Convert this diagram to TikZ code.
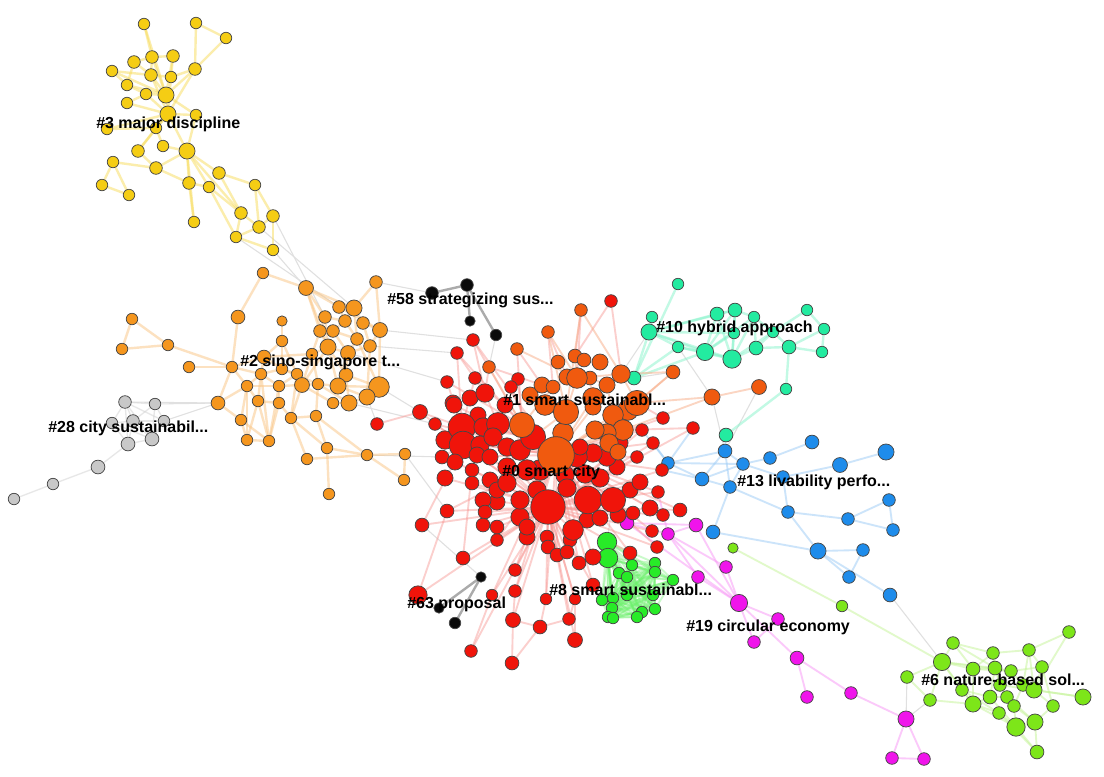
\documentclass[tikz,border=0pt]{standalone}
\usepackage{fontspec}
\setmainfont{Liberation Sans}
\usetikzlibrary{backgrounds}
\definecolor{cY}{RGB}{245,205,20}
\definecolor{cO}{RGB}{245,150,30}
\definecolor{cR}{RGB}{240,20,10}
\definecolor{cQ}{RGB}{240,90,15}
\definecolor{cT}{RGB}{35,235,160}
\definecolor{cB}{RGB}{30,140,235}
\definecolor{cE}{RGB}{40,235,40}
\definecolor{cL}{RGB}{125,230,25}
\definecolor{cM}{RGB}{240,20,235}
\definecolor{cG}{RGB}{200,200,200}
\definecolor{cK}{RGB}{10,10,10}
\definecolor{cBd}{RGB}{70,70,70}
\newcommand\nd[5]{\node[nd,fill=#5,minimum size=#4*1.72pt] (#1) at (#2,#3) {};}
\tikzset{
  nd/.style={circle,draw=cBd,line width=0.55pt,inner sep=0pt},
  lab/.style={anchor=west,inner sep=0pt,font=\bfseries\fontsize{12}{14}\selectfont},
  eg/.style={line width=1.8pt,opacity=0.5},
  faint/.style={line width=0.8pt,draw=black!12}
}
\begin{document}
\begin{tikzpicture}[x=0.75pt,y=-0.75pt]
\useasboundingbox (0,0) rectangle (1104,776);
% ---------- yellow #3
\nd{y1}{144}{24}{5}{cY}\nd{y2}{196}{23}{5}{cY}\nd{y3}{226}{38}{5}{cY}
\nd{y4}{134}{62}{5.5}{cY}\nd{y5}{152}{57}{5.5}{cY}\nd{y6}{173}{56}{5.5}{cY}
\nd{y7}{112}{71}{5}{cY}\nd{y8}{151}{75}{5.5}{cY}\nd{y9}{171}{77}{5}{cY}
\nd{y10}{195}{69}{5.5}{cY}\nd{y11}{127}{85}{5}{cY}\nd{y12}{146}{94}{5}{cY}
\nd{y13}{166}{95}{7}{cY}\nd{y14}{127}{103}{5}{cY}\nd{y15}{168}{114}{7}{cY}
\nd{y16}{196}{115}{5}{cY}\nd{y17}{107}{129}{5}{cY}\nd{y18}{156}{128}{5}{cY}
\nd{y19}{138}{151}{5.5}{cY}\nd{y20}{163}{146}{5}{cY}\nd{y21}{187}{151}{7}{cY}
\nd{y22}{113}{162}{5}{cY}\nd{y23}{156}{168}{5.5}{cY}\nd{y24}{102}{185}{5}{cY}
\nd{y25}{129}{195}{5}{cY}\nd{y26}{189}{183}{5.5}{cY}\nd{y27}{219}{173}{5.5}{cY}
\nd{y28}{209}{187}{5}{cY}\nd{y29}{255}{185}{5}{cY}\nd{y30}{194}{222}{5}{cY}
\nd{y31}{241}{213}{5.5}{cY}\nd{y32}{273}{216}{5.5}{cY}\nd{y33}{259}{227}{5.5}{cY}
\nd{y34}{236}{237}{5}{cY}\nd{y35}{273}{250}{5}{cY}
% ---------- orange #2
\nd{o1}{263}{273}{5}{cO}\nd{o2}{306}{288}{6.5}{cO}\nd{o3}{376}{282}{5.5}{cO}
\nd{o4}{339}{307}{5.5}{cO}\nd{o5}{354}{308}{7}{cO}\nd{o6}{325}{317}{5.5}{cO}
\nd{o7}{345}{321}{5.5}{cO}\nd{o8}{363}{323}{5.5}{cO}\nd{o9}{380}{330}{6.5}{cO}
\nd{o10}{320}{331}{5.5}{cO}\nd{o11}{333}{331}{5.5}{cO}\nd{o12}{357}{339}{5.5}{cO}
\nd{o13}{328}{347}{7}{cO}\nd{o14}{370}{346}{5.5}{cO}\nd{o15}{348}{353}{6.5}{cO}
\nd{o16}{312}{354}{5}{cO}\nd{o17}{264}{357}{6}{cO}\nd{o18}{132}{319}{5}{cO}
\nd{o19}{238}{317}{6}{cO}\nd{o20}{282}{321}{4.5}{cO}\nd{o21}{282}{341}{5}{cO}
\nd{o22}{168}{345}{5}{cO}\nd{o23}{122}{349}{5}{cO}\nd{o24}{189}{367}{5}{cO}
\nd{o25}{232}{367}{5}{cO}\nd{o26}{261}{374}{5}{cO}\nd{o27}{282}{369}{5}{cO}
\nd{o28}{297}{374}{5}{cO}\nd{o29}{346}{375}{6}{cO}\nd{o30}{247}{386}{5}{cO}
\nd{o31}{279}{386}{5}{cO}\nd{o32}{302}{385}{6.5}{cO}\nd{o33}{318}{384}{5}{cO}
\nd{o34}{338}{386}{7}{cO}\nd{o35}{379}{387}{9}{cO}\nd{o36}{367}{397}{7}{cO}
\nd{o37}{349}{403}{7}{cO}\nd{o38}{333}{403}{5}{cO}\nd{o39}{218}{403}{6}{cO}
\nd{o40}{258}{401}{5}{cO}\nd{o41}{279}{403}{5}{cO}\nd{o42}{291}{418}{5}{cO}
\nd{o43}{316}{416}{5}{cO}\nd{o44}{241}{420}{5}{cO}\nd{o45}{247}{440}{5}{cO}
\nd{o46}{269}{441}{5}{cO}\nd{o47}{327}{448}{5}{cO}\nd{o48}{307}{459}{5}{cO}
\nd{o49}{367}{455}{5}{cO}\nd{o50}{405}{454}{5}{cO}\nd{o51}{404}{480}{5}{cO}
\nd{o52}{329}{494}{5}{cO}
% ---------- grey #28
\nd{g1}{125}{402}{5.5}{cG}\nd{g2}{155}{404}{5}{cG}\nd{g3}{112}{423}{5}{cG}
\nd{g4}{133}{421}{5.5}{cG}\nd{g5}{164}{421}{5}{cG}\nd{g6}{128}{444}{6}{cG}
\nd{g7}{152}{439}{6}{cG}\nd{g8}{98}{467}{6}{cG}\nd{g9}{53}{484}{5}{cG}
\nd{g10}{14}{499}{5}{cG}
% ---------- black #58 and #63
\nd{b1}{432}{293}{5.5}{cK}\nd{b2}{467}{285}{5.5}{cK}\nd{b3}{470}{321}{4.5}{cK}\nd{b4}{496}{335}{5}{cK}
\nd{k1}{481}{577}{4.5}{cK}\nd{k2}{439}{608}{4.5}{cK}\nd{k3}{455}{623}{5}{cK}
% ---------- teal #10
\nd{t1}{678}{284}{5}{cT}\nd{t2}{652}{317}{5}{cT}\nd{t3}{649}{332}{7}{cT}
\nd{t4}{678}{347}{5}{cT}\nd{t5}{717}{314}{6}{cT}\nd{t6}{735}{310}{6}{cT}
\nd{t7}{754}{317}{5}{cT}\nd{t8}{734}{333}{5}{cT}\nd{t9}{773}{332}{5}{cT}
\nd{t10}{705}{352}{7.5}{cT}\nd{t11}{732}{359}{8}{cT}\nd{t12}{756}{348}{6}{cT}
\nd{t13}{789}{347}{6}{cT}\nd{t14}{807}{310}{5}{cT}\nd{t15}{824}{329}{5}{cT}
\nd{t16}{822}{352}{5}{cT}\nd{t17}{634}{378}{6}{cT}\nd{t18}{786}{389}{5}{cT}
\nd{t19}{726}{435}{6}{cT}
% ---------- blue #13
\nd{u1}{812}{442}{6}{cB}\nd{u2}{886}{452}{7}{cB}\nd{u3}{725}{451}{6}{cB}
\nd{u4}{770}{458}{5.5}{cB}\nd{u5}{840}{465}{6.5}{cB}\nd{u6}{668}{463}{5.5}{cB}
\nd{u7}{743}{464}{5.5}{cB}\nd{u8}{702}{479}{6}{cB}\nd{u9}{783}{477}{5.5}{cB}
\nd{u10}{730}{487}{5.5}{cB}\nd{u11}{889}{500}{5.5}{cB}\nd{u12}{788}{512}{5.5}{cB}
\nd{u13}{848}{519}{5.5}{cB}\nd{u14}{893}{530}{5.5}{cB}\nd{u15}{713}{532}{6}{cB}
\nd{u16}{818}{551}{7}{cB}\nd{u17}{863}{550}{5.5}{cB}\nd{u18}{849}{577}{5.5}{cB}
\nd{u19}{890}{595}{6}{cB}
% ---------- magenta #19
\nd{m1}{627}{523}{6}{cM}\nd{m2}{696}{525}{6}{cM}\nd{m3}{668}{534}{5.5}{cM}
\nd{m4}{698}{577}{5.5}{cM}\nd{m5}{726}{567}{5.5}{cM}\nd{m6}{739}{603}{7.5}{cM}
\nd{m7}{778}{619}{5.5}{cM}\nd{m8}{754}{642}{5.5}{cM}\nd{m9}{797}{658}{6}{cM}
\nd{m10}{807}{697}{5.5}{cM}\nd{m11}{851}{693}{5.5}{cM}\nd{m12}{906}{719}{7}{cM}
\nd{m13}{892}{758}{5.5}{cM}\nd{m14}{924}{759}{5.5}{cM}
% ---------- lime #6
\nd{l1}{733}{548}{4.5}{cL}\nd{l2}{842}{606}{5}{cL}\nd{l3}{1069}{632}{5.5}{cL}
\nd{l4}{953}{643}{5.5}{cL}\nd{l5}{993}{653}{5.5}{cL}\nd{l6}{1029}{650}{5.5}{cL}
\nd{l7}{942}{662}{7.5}{cL}\nd{l8}{973}{669}{6}{cL}\nd{l9}{995}{668}{6}{cL}
\nd{l10}{1011}{671}{5.5}{cL}\nd{l11}{1042}{667}{5.5}{cL}\nd{l12}{907}{677}{5.5}{cL}
\nd{l13}{962}{690}{5.5}{cL}\nd{l14}{1000}{685}{5.5}{cL}\nd{l15}{1023}{685}{5.5}{cL}
\nd{l16}{1034}{690}{7}{cL}\nd{l17}{930}{700}{5.5}{cL}\nd{l18}{973}{704}{7}{cL}
\nd{l19}{990}{697}{6}{cL}\nd{l20}{1007}{697}{5.5}{cL}\nd{l21}{1014}{706}{5.5}{cL}
\nd{l22}{1053}{706}{5.5}{cL}\nd{l23}{1083}{697}{7}{cL}\nd{l24}{999}{713}{5.5}{cL}
\nd{l25}{1016}{727}{8}{cL}\nd{l26}{1035}{722}{7}{cL}\nd{l27}{1037}{752}{6}{cL}
% ---------- bright green #8
\nd{e1}{607}{542}{8.5}{cE}\nd{e2}{608}{558}{8.5}{cE}\nd{e3}{632}{565}{5}{cE}
\nd{e4}{655}{563}{5}{cE}\nd{e5}{655}{572}{5}{cE}\nd{e6}{619}{573}{5}{cE}
\nd{e7}{627}{577}{5}{cE}\nd{e8}{673}{580}{5}{cE}\nd{e9}{653}{595}{5}{cE}
\nd{e10}{627}{595}{5}{cE}\nd{e11}{613}{598}{5}{cE}\nd{e12}{602}{600}{5}{cE}
\nd{e13}{612}{608}{5}{cE}\nd{e14}{642}{612}{5}{cE}\nd{e15}{655}{609}{5}{cE}
\nd{e16}{608}{617}{5}{cE}\nd{e17}{613}{618}{5}{cE}\nd{e18}{637}{617}{5}{cE}
% ---------- red #0 (peripheral first)
\nd{r1}{611}{301}{5.5}{cR}\nd{r2}{473}{340}{5.5}{cR}\nd{r3}{457}{353}{5.5}{cR}
\nd{r4}{475}{378}{5.5}{cR}\nd{r5}{518}{379}{5.5}{cR}\nd{r6}{447}{382}{5.5}{cR}
\nd{r7}{511}{387}{5.5}{cR}\nd{r94}{377}{424}{5.5}{cR}\nd{r10}{420}{412}{6.5}{cR}
\nd{r12}{435}{424}{5.5}{cR}\nd{r22}{442}{457}{6}{cR}\nd{r34}{663}{418}{5.5}{cR}
\nd{r35}{693}{428}{5.5}{cR}\nd{r36}{642}{430}{5.5}{cR}\nd{r37}{653}{443}{5.5}{cR}
\nd{r38}{637}{457}{5.5}{cR}\nd{r40}{662}{470}{5.5}{cR}\nd{r41}{658}{492}{5.5}{cR}
\nd{r54}{447}{511}{6}{cR}\nd{r55}{422}{525}{6}{cR}\nd{r67}{680}{510}{6}{cR}
\nd{r66}{663}{515}{5.5}{cR}\nd{r68}{652}{531}{5.5}{cR}\nd{r72}{497}{540}{5.5}{cR}
\nd{r73}{463}{558}{6}{cR}\nd{r79}{630}{553}{6}{cR}\nd{r80}{657}{547}{5.5}{cR}
\nd{r81}{515}{570}{5.5}{cR}\nd{r82}{418}{595}{8}{cR}\nd{r83}{492}{595}{5}{cR}
\nd{r84}{515}{591}{5.5}{cR}\nd{r85}{546}{599}{5}{cR}\nd{r86}{575}{599}{5}{cR}
\nd{r87}{593}{585}{6}{cR}\nd{r88}{513}{620}{6.5}{cR}\nd{r89}{540}{627}{6}{cR}
\nd{r90}{569}{619}{5.5}{cR}\nd{r91}{575}{640}{6.5}{cR}\nd{r92}{471}{651}{5.5}{cR}
\nd{r93}{512}{663}{6}{cR}
\nd{f1}{470}{398}{7}{cR}\nd{f2}{505}{405}{7}{cR}\nd{f3}{445}{440}{8}{cR}
\nd{f4}{497}{502}{7}{cR}\nd{f5}{520}{517}{8}{cR}\nd{f6}{600}{478}{8}{cR}
\nd{f7}{585}{474}{8}{cR}\nd{f8}{540}{470}{9}{cR}\nd{f9}{565}{475}{8}{cR}
\nd{f10}{453}{403}{7}{cR}\nd{f11}{445}{478}{7}{cR}\nd{f12}{630}{490}{7}{cR}
\nd{r9}{454}{405}{7}{cR}\nd{r11}{478}{415}{7}{cR}\nd{r13}{462}{427}{12}{cR}
\nd{r14}{483}{427}{8}{cR}\nd{r17}{463}{445}{12}{cR}\nd{r8}{485}{393}{8}{cR}
\nd{r15}{498}{424}{10}{cR}\nd{r18}{480}{445}{8}{cR}\nd{r19}{493}{437}{8}{cR}
\nd{r23}{455}{462}{7}{cR}\nd{r24}{477}{455}{7}{cR}\nd{r25}{490}{457}{7}{cR}
\nd{r50}{472}{470}{6}{cR}\nd{r51}{472}{483}{6}{cR}\nd{r49}{490}{480}{7}{cR}
\nd{r52}{483}{500}{7}{cR}\nd{r53}{497}{490}{7}{cR}\nd{r56}{485}{512}{6}{cR}
\nd{r57}{483}{525}{6}{cR}\nd{r58}{497}{527}{6}{cR}\nd{r69}{527}{537}{7}{cR}
\nd{r70}{547}{537}{6}{cR}\nd{r71}{570}{540}{6}{cR}\nd{r74}{548}{547}{6}{cR}
\nd{r75}{557}{555}{6}{cR}\nd{r76}{567}{552}{6}{cR}\nd{r77}{579}{563}{6}{cR}
\nd{r78}{593}{557}{7}{cR}\nd{r59}{527}{527}{7}{cR}\nd{r61}{587}{520}{7}{cR}
\nd{r62}{600}{518}{7}{cR}\nd{r63}{618}{515}{7}{cR}\nd{r64}{633}{513}{6}{cR}
\nd{r65}{650}{508}{7}{cR}\nd{r60}{573}{530}{9}{cR}\nd{r39}{640}{482}{7}{cR}
\nd{r33}{617}{467}{7}{cR}\nd{r32}{620}{443}{7}{cR}\nd{r31}{607}{457}{8}{cR}
\nd{r30}{593}{453}{8}{cR}\nd{r29}{577}{457}{9}{cR}\nd{r28}{580}{447}{7}{cR}
\nd{r26}{507}{467}{8}{cR}\nd{r27}{527}{470}{9}{cR}\nd{r48}{507}{483}{8}{cR}
\nd{r47}{520}{500}{8}{cR}\nd{r46}{537}{490}{8}{cR}\nd{r45}{567}{488}{8}{cR}
\nd{r20}{507}{447}{8}{cR}\nd{r21}{520}{450}{9}{cR}\nd{r16}{533}{437}{11}{cR}
\nd{r43}{588}{500}{12}{cR}\nd{r42}{613}{500}{11}{cR}\nd{r44}{548}{507}{15}{cR}
% ---------- orange #1
\nd{q1}{581}{310}{5.5}{cQ}\nd{q2}{548}{332}{5.5}{cQ}\nd{q3}{517}{349}{5.5}{cQ}
\nd{q4}{489}{367}{5.5}{cQ}\nd{q27}{673}{372}{6}{cQ}\nd{q28}{712}{397}{7}{cQ}
\nd{q29}{759}{387}{6.5}{cQ}
\nd{q30}{558}{362}{6}{cQ}\nd{q31}{600}{362}{7}{cQ}\nd{q32}{530}{395}{7}{cQ}
\nd{q5}{575}{356}{6}{cQ}\nd{q6}{584}{360}{6}{cQ}\nd{q7}{567}{377}{7}{cQ}
\nd{q9}{590}{378}{6}{cQ}\nd{q8}{577}{378}{9}{cQ}\nd{q10}{607}{385}{7}{cQ}
\nd{q11}{621}{374}{8}{cQ}\nd{q12}{542}{385}{7}{cQ}\nd{q13}{553}{387}{6}{cQ}
\nd{q24}{593}{398}{9}{cQ}\nd{q17}{593}{407}{7}{cQ}\nd{q22}{628}{410}{9}{cQ}
\nd{q21}{637}{403}{11}{cQ}\nd{q18}{613}{415}{9}{cQ}\nd{q19}{623}{430}{9}{cQ}
\nd{q25}{607}{433}{8}{cQ}\nd{q20}{609}{443}{8}{cQ}\nd{q26}{618}{452}{7}{cQ}
\nd{q33}{545}{405}{9}{cQ}\nd{q34}{595}{430}{8}{cQ}
\nd{q14}{522}{425}{11}{cQ}\nd{q16}{563}{433}{9}{cQ}\nd{q15}{566}{412}{11}{cQ}
\nd{q23}{556}{455}{16}{cQ}
% ====================== edges
\begin{scope}[on background layer]
\fill[white] (0,0) rectangle (1104,776);
% faint inter-cluster
\foreach \a/\b in {y34/o4,y35/o2,y33/o5,y32/o6,o35/r10,o9/r2,o3/b1,o14/r3,o36/r94,o37/r12,t17/q27,u19/l7,m12/l17,g2/o39,g5/o39,g1/o39,b4/q4,e1/r42,t4/q28,r55/k1,q29/u3,l12/m12,o49/r22,o50/r54,t3/q11,u3/q28,o15/r6}
  \draw[faint] (\a) -- (\b);
% yellow
\foreach \a/\b in {y1/y5,y1/y13,y2/y3,y2/y10,y3/y10,y4/y5,y4/y8,y5/y6,y5/y8,y6/y9,y6/y13,y7/y11,y7/y8,y8/y9,y8/y13,y9/y10,y10/y13,y10/y15,y11/y12,y11/y13,y12/y13,y13/y15,y14/y15,y14/y12,y15/y16,y15/y17,y15/y18,y15/y21,y16/y21,y17/y18,y18/y19,y18/y20,y19/y23,y20/y21,y21/y26,y21/y27,y21/y28,y21/y23,y22/y23,y22/y24,y22/y25,y24/y25,y23/y26,y26/y30,y27/y29,y26/y28,y27/y31,y28/y31,y29/y32,y29/y33,y31/y33,y32/y33,y33/y34,y31/y34,y34/y35,y32/y35,y28/y34,y21/y31,y15/y19,y13/y16,y4/y11,y7/y13,y5/y13,y8/y15,y9/y15,y12/y15,y21/y30}
  \draw[eg,draw=cY!70] (\a) -- (\b);
% orange #2
\foreach \a/\b in {o1/o2,o2/o4,o2/o6,o2/o10,o2/o13,o2/o5,o3/o5,o3/o9,o4/o5,o5/o8,o5/o7,o6/o7,o7/o11,o8/o9,o9/o14,o10/o13,o11/o12,o12/o15,o13/o15,o14/o15,o13/o16,o15/o29,o16/o17,o17/o21,o17/o27,o19/o25,o20/o21,o21/o27,o22/o18,o18/o23,o22/o23,o22/o25,o24/o25,o25/o26,o26/o27,o27/o28,o28/o32,o32/o33,o33/o34,o34/o35,o35/o36,o36/o37,o37/o38,o29/o34,o29/o35,o32/o16,o30/o26,o30/o31,o31/o32,o30/o40,o40/o41,o41/o42,o42/o43,o43/o47,o39/o25,o39/o30,o39/o44,o44/o45,o45/o46,o46/o41,o44/o46,o40/o45,o30/o45,o31/o46,o42/o48,o47/o49,o48/o49,o49/o50,o50/o51,o49/o51,o47/o52,o43/o33,o13/o34,o12/o35,o9/o35,o14/o36,o6/o13,o10/o16,o4/o9,o26/o40,o28/o31,o25/o30,o17/o25,o21/o28,o43/o49,o42/o47,o27/o33,o13/o32,o15/o34,o16/o33,o11/o15,o7/o12,o8/o14,o6/o10,o4/o7,o29/o37,o32/o38,o33/o37,o17/o26,o26/o31,o31/o41,o28/o42,o32/o42,o26/o46,o40/o46,o30/o44,o34/o36,o5/o12,o13/o29,o10/o11,o1/o19}
  \draw[eg,draw=cO!55] (\a) -- (\b);
% grey
\foreach \a/\b in {g1/g2,g1/g3,g1/g4,g1/g5,g1/g6,g1/g7,g2/g4,g2/g5,g2/g7,g3/g4,g3/g6,g4/g5,g4/g6,g4/g7,g5/g7,g6/g7,g3/g7,g6/g8,g8/g9,g9/g10}
  \draw[eg,draw=black!18,line width=1pt] (\a) -- (\b);
% black
\foreach \a/\b in {b1/b2,b2/b3,b2/b4,k1/k2,k1/k3}
  \draw[eg,draw=black!55,opacity=0.6] (\a) -- (\b);
% teal
\foreach \a/\b in {t1/t17,t2/t3,t3/t4,t3/t10,t3/t11,t3/t17,t4/t17,t4/t10,t5/t6,t5/t10,t6/t7,t6/t11,t6/t8,t7/t12,t7/t9,t8/t11,t9/t11,t9/t13,t10/t11,t11/t12,t12/t13,t10/t7,t13/t15,t14/t15,t15/t16,t13/t16,t13/t18,t18/t19,t17/t10,t17/q11,t9/t14,t8/t10,t5/t11,t7/t11,t4/t11,t12/t9,t3/t5,t3/t6,t3/t8,t10/t6}
  \draw[eg,draw=cT!55] (\a) -- (\b);
% blue
\foreach \a/\b in {u1/u4,u4/u7,u3/u7,u3/u10,u6/u3,u6/u7,u6/u8,u8/u7,u8/u10,u7/u10,u7/u9,u9/u5,u5/u2,u9/u12,u10/u12,u10/u15,u12/u13,u12/u16,u13/u11,u13/u14,u11/u14,u15/u16,u16/u17,u16/u18,u17/u18,u16/u19,t19/u3,u6/r35,u6/r37,u8/r40,u6/r36,u3/u8}
  \draw[eg,draw=cB!45,line width=1.4pt] (\a) -- (\b);
% magenta
\foreach \a/\b in {m1/m2,m1/m3,m3/m6,m3/m4,m3/m5,m4/m6,m5/m6,m2/m6,m2/m3,m6/m7,m6/m8,m7/m8,m6/m9,m9/m10,m9/m11,m11/m12,m12/m13,m12/m14,m13/m14,m1/r63,m3/r41,m1/m6}
  \draw[eg,draw=cM!45,line width=1.4pt] (\a) -- (\b);
% lime
\foreach \a/\b in {l1/l2,l2/l7,l3/l6,l4/l7,l4/l8,l5/l6,l5/l9,l6/l11,l6/l16,l7/l8,l7/l12,l7/l13,l7/l17,l8/l9,l8/l13,l9/l10,l10/l11,l10/l14,l11/l16,l13/l18,l14/l16,l15/l16,l16/l22,l16/l23,l18/l19,l19/l20,l20/l21,l18/l24,l24/l25,l25/l26,l26/l27,l25/l27,l22/l26,l21/l25,l17/l18,l12/l17,l8/l18,l9/l19,l14/l20,l13/l24,l5/l14,l4/l5,l10/l15,l15/l21,l19/l25,l7/l9,l11/l22,l23/l16,l5/l8,l7/l18,l20/l26,l6/l15,l3/l16,l4/l9,l8/l10,l9/l14,l13/l19,l18/l25,l21/l26,l24/l27,l7/l10}
  \draw[eg,draw=cL!45,line width=1.4pt] (\a) -- (\b);
% bright green hull
\foreach \i in {1,...,18}{\foreach \j in {\i,...,18}{\draw[draw=cE!70,line width=1.4pt,opacity=0.35] (e\i.center) -- (e\j.center);}}
% red/orange core
\foreach \a/\b in {r1/q11,r1/q5,q1/q8,q1/q5,q2/q7,q2/q13,q3/q12,q3/q14,q4/q12,q4/r8,r2/r8,r2/q14,r3/r13,r3/r8,r4/r13,r5/q14,r6/r13,r7/r16,r8/r15,r9/r13,r10/r13,r10/r17,r11/r14,r12/r17,r13/r16,r14/r16,r15/q23,r16/q23,r17/r44,r18/q23,r19/r44,r20/q23,r21/r44,r22/r17,r23/r44,r24/r44,r25/r44,r26/r44,r27/r44,r28/r44,r29/r44,r30/q23,r31/r44,r32/q23,r33/r44,r34/q21,r35/q19,r36/q23,r37/r44,r38/r44,r39/r44,r40/q23,r41/r44,r42/q23,r43/q23,r45/q23,r46/q23,r47/q23,r48/q14,r49/q23,r50/r44,r51/r44,r52/r44,r53/q23,r54/r44,r55/r17,r55/r44,r56/r44,r57/r44,r58/r44,r59/q23,r60/r44,r61/r44,r62/q23,r63/r44,r64/r44,r65/q23,r66/r44,r67/r44,r68/r44,r69/r44,r70/r44,r71/q23,r72/r44,r73/r50,r73/r44,r74/r44,r75/r44,r76/r44,r77/r44,r78/q23,r79/r44,r80/r44,r81/r44,r82/r54,r82/r44,r83/r44,r84/r44,r85/r44,r86/r44,r87/r44,r88/r84,r88/r44,r89/r85,r88/r89,r89/r90,r90/r86,r90/r44,r91/r86,r91/r44,r92/r83,r92/r44,r93/r88,r93/r89,r94/r10,r9/q23,r12/q23,r6/q14,r4/q23,r2/q23,r3/q14,r22/q23,r54/q23,r72/q23,r81/q23,r83/q23,r85/q23,r87/q23,r79/q23,r80/q23,r84/q23,r86/r44,r77/q23,r75/q23,r36/r44,r37/q23,r34/q23,r35/r44,r41/q23,r68/q23,r66/q23,r67/q23,r40/r44,r38/q23,f11/r44,f3/q23,f12/r44}
  \draw[eg,draw=cR!45,opacity=0.45,line width=1.4pt] (\a) -- (\b);
\foreach \a/\b in {q27/q21,q28/q19,q29/q28,q27/q11,q11/q8,q5/q8,q7/q8,q9/q10,q10/q11,q12/q13,q13/q14,q15/q23,q16/q23,q17/q23,q18/q23,q19/q23,q20/q23,q21/q23,q22/q23,q24/q23,q25/q23,q26/q23,q14/q23,q8/q15,q9/q17,q10/q18,q11/q21,q15/r16,q1/q15,q2/q15,q1/q11,q2/q8,q4/q14,q3/q8,q27/q22,q28/q21}
  \draw[eg,draw=cQ!50,opacity=0.5,line width=1.4pt] (\a) -- (\b);
\end{scope}
% ====================== labels
\node[lab] (L3) at (96,124) {\#3 major discipline};
\node[lab] (L58) at (387,300) {\#58 strategizing sus...};
\node[lab] (L10) at (656,328) {\#10 hybrid approach};
\node[lab] (L2) at (240,362) {\#2 sino-singapore t...};
\node[lab] (L1) at (503,400) {\#1 smart sustainabl...};
\node[lab] (L28) at (48,428) {\#28 city sustainabil...};
\node[lab] (L0) at (502,472) {\#0 smart city};
\node[lab] (L13) at (737,482) {\#13 livability perfo...};
\node[lab] (L8) at (549,590) {\#8 smart sustainabl...};
\node[lab] (L63) at (407,604) {\#63 proposal};
\node[lab] (L19) at (686,627) {\#19 circular economy};
\node[lab] (L6) at (921,680) {\#6 nature-based sol...};
\end{tikzpicture}
\end{document}
